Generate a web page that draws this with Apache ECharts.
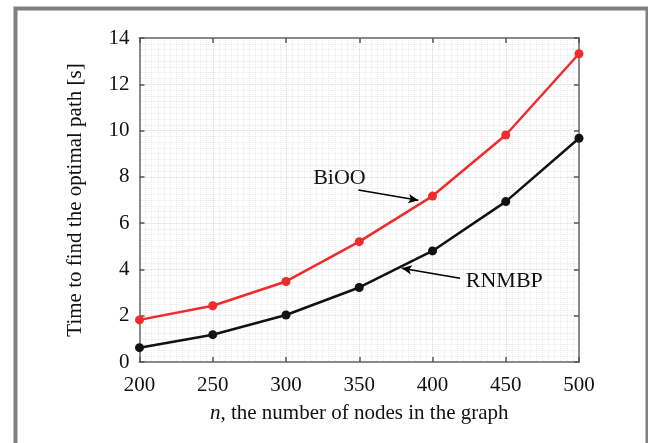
<!DOCTYPE html>
<html>
<head>
<meta charset="utf-8">
<script src="https://cdn.jsdelivr.net/npm/echarts@6/dist/echarts.min.js"></script>
<style>
  html, body { margin: 0; padding: 0; background: #fff; }
  #chart { width: 648px; height: 443px; }
</style>
</head>
<body>
<div id="chart"></div>
<script>
// Data
var nodes = [200, 250, 300, 350, 400, 450, 500];       // n, number of nodes
var biooTime = [1.82, 2.43, 3.48, 5.2, 7.17, 9.81, 13.32];   // BiOO, seconds
var rnmbpTime = [0.62, 1.18, 2.03, 3.22, 4.8, 6.93, 9.67];   // RNMBP, seconds
var yTicks = [0, 14, 2];                                 // min, max, step

// Callout arrows, given in data units [n, s]
var biooArrow = [[349.4, 7.43], [390.3, 6.99]];
var biooLabelAt = [336.5, 7.95];
var rnmbpArrow = [[418.8, 3.62], [379.0, 4.05]];
var rnmbpLabelAt = [449, 3.5];

var serif = '"Liberation Serif", "DejaVu Serif", serif';

function pairs(xs, ys) {
	var out = [];
	for (var i = 0; i < xs.length; i++) {
		out.push([xs[i], ys[i]]);
	}
	return out;
}

// Builds one callout: arrow line + text label
function callout(arrow, labelAt, text) {
	return {
		markLine: {
			silent: true,
			symbol: ['none', 'arrow'],
			symbolSize: [7, 10],
			lineStyle: { color: '#000', width: 1.4, type: 'solid' },
			label: { show: false },
			data: [[{ coord: arrow[0] }, { coord: arrow[1] }]]
		},
		markPoint: {
			silent: true,
			symbol: 'circle',
			symbolSize: 0,
			label: {
				show: true,
				position: 'inside',
				formatter: text,
				color: '#111',
				fontFamily: serif,
				fontSize: 22
			},
			data: [{ coord: labelAt }]
		}
	};
}

var axisGray = '#8a8a8a';

function xAxisOf(pos, showLabels) {
	return {
		type: 'value',
		position: pos,
		min: 200,
		max: 500,
		interval: 50,
		name: showLabels ? '{i|n}, the number of nodes in the graph' : '',
		nameLocation: 'middle',
		nameGap: 41,
		nameTextStyle: {
			color: '#111',
			fontFamily: serif,
			fontSize: 21,
			rich: {
				i: { fontStyle: 'italic', fontFamily: serif, fontSize: 21, color: '#111' }
			}
		},
		axisLine: { show: true, onZero: false, lineStyle: { color: axisGray, width: 2 } },
		axisTick: { show: true, inside: true, length: 5, lineStyle: { color: '#555', width: 1.5 } },
		axisLabel: { show: showLabels, margin: 13, color: '#111', fontFamily: serif, fontSize: 21 },
		splitLine: { show: showLabels, lineStyle: { color: '#d6d6d6', type: 'dotted', width: 1 } },
		minorTick: { show: false, splitNumber: 12 },
		minorSplitLine: { show: showLabels, lineStyle: { color: '#e8e8e8', type: 'dotted', width: 1 } }
	};
}

function yAxisOf(pos, showLabels) {
	return {
		type: 'value',
		position: pos,
		min: yTicks[0],
		max: yTicks[1],
		interval: yTicks[2],
		name: showLabels ? 'Time to find the optimal path [s]' : '',
		nameLocation: 'middle',
		nameGap: 54,
		nameTextStyle: { color: '#111', fontFamily: serif, fontSize: 21 },
		axisLine: { show: true, onZero: false, lineStyle: { color: axisGray, width: 2 } },
		axisTick: { show: true, inside: true, length: 5, lineStyle: { color: '#555', width: 1.5 } },
		axisLabel: { show: showLabels, margin: 10, color: '#111', fontFamily: serif, fontSize: 21 },
		splitLine: { show: showLabels, lineStyle: { color: '#d6d6d6', type: 'dotted', width: 1 } },
		minorTick: { show: false, splitNumber: 8 },
		minorSplitLine: { show: showLabels, lineStyle: { color: '#e8e8e8', type: 'dotted', width: 1 } }
	};
}

var chart = echarts.init(document.getElementById('chart'), null, { renderer: 'canvas' });

var biooSeries = {
	name: 'BiOO',
	type: 'line',
	xAxisIndex: 0,
	yAxisIndex: 0,
	data: pairs(nodes, biooTime),
	symbol: 'circle',
	symbolSize: 9,
	lineStyle: { color: '#f02b2b', width: 2.5 },
	itemStyle: { color: '#f02b2b' },
	z: 3
};
var rnmbpSeries = {
	name: 'RNMBP',
	type: 'line',
	xAxisIndex: 0,
	yAxisIndex: 0,
	data: pairs(nodes, rnmbpTime),
	symbol: 'circle',
	symbolSize: 9,
	lineStyle: { color: '#111', width: 2.5 },
	itemStyle: { color: '#111' },
	z: 3
};
Object.assign(biooSeries, callout(biooArrow, biooLabelAt, 'BiOO'));
Object.assign(rnmbpSeries, callout(rnmbpArrow, rnmbpLabelAt, 'RNMBP'));

chart.setOption({
	animation: false,
	backgroundColor: '#fff',
	grid: { left: 139.5, right: 69, top: 38, bottom: 81 },
	xAxis: [xAxisOf('bottom', true), xAxisOf('top', false)],
	yAxis: [yAxisOf('left', true), yAxisOf('right', false)],
	// gray frame around the whole figure (open at the bottom)
	graphic: [{
		type: 'rect',
		left: 13,
		top: 6,
		shape: { width: 632, height: 460 },
		style: { fill: 'none', stroke: '#808080', lineWidth: 4 },
		silent: true
	}],
	series: [biooSeries, rnmbpSeries]
});
</script>
</body>
</html>
